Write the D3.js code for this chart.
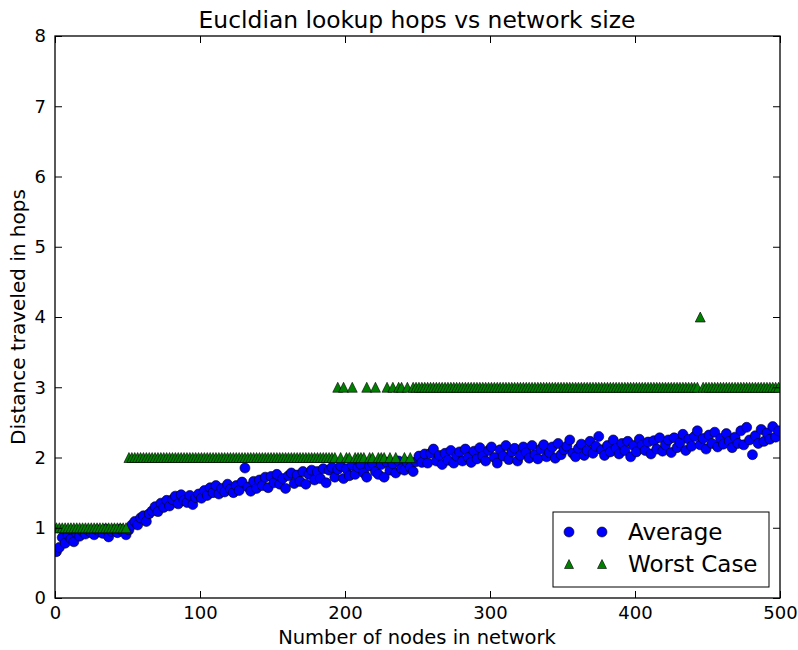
<!DOCTYPE html>
<html>
<head>
<meta charset="utf-8">
<script src="https://cdn.jsdelivr.net/npm/d3@7/dist/d3.min.js"></script>
<style>
  body { margin: 0; background: #fff; }
  svg { display: block; font-family: "DejaVu Sans", sans-serif; }
</style>
</head>
<body>
<svg id="chart" width="798" height="650"></svg>
<script>
const title = "Eucldian lookup hops vs network size";
const xLabel = "Number of nodes in network";
const yLabel = "Distance traveled in hops";
const seriesNames = ["Average", "Worst Case"];
const xTicks = [0, 100, 200, 300, 400, 500];
const yTicks = [0, 1, 2, 3, 4, 5, 6, 7, 8];

// network sizes sampled (odd sizes 1..499)
const nodes = d3.range(1, 500, 2);

const average = [
  0.66, 0.72, 0.86, 0.78, 0.90, 0.84, 0.80, 0.92, 0.88, 0.95,
  0.91, 0.96, 0.93, 0.90, 0.97, 0.94, 0.92, 0.98, 0.87, 0.95,
  0.97, 0.93, 0.98, 0.95, 0.90, 0.97, 1.04, 1.09, 1.04, 1.14,
  1.17, 1.09, 1.20, 1.24, 1.30, 1.23, 1.35, 1.29, 1.39, 1.31,
  1.40, 1.45, 1.34, 1.47, 1.39, 1.36, 1.46, 1.33, 1.43, 1.48,
  1.42, 1.53, 1.46, 1.57, 1.50, 1.60, 1.48, 1.56, 1.51, 1.62,
  1.55, 1.50, 1.60, 1.53, 1.65, 1.85, 1.58, 1.52, 1.66, 1.56,
  1.68, 1.60, 1.72, 1.57, 1.73, 1.64, 1.76, 1.62, 1.70, 1.56,
  1.74, 1.78, 1.63, 1.75, 1.66, 1.80, 1.62, 1.76, 1.82, 1.68,
  1.80, 1.70, 1.84, 1.64, 1.82, 1.86, 1.72, 1.83, 1.88, 1.70,
  1.84, 1.74, 1.89, 1.76, 1.86, 1.90, 1.78, 1.72, 1.88, 1.92,
  1.80, 1.76, 1.90, 1.72, 1.93, 1.82, 1.91, 1.78, 1.95, 1.84,
  1.82, 1.93, 1.86, 1.80, 1.94, 2.02, 1.93, 2.05, 1.92, 2.06,
  2.12, 1.95, 2.03, 1.90, 2.06, 1.96, 2.10, 1.92, 2.02, 2.08,
  1.95, 2.12, 2.00, 1.93, 2.09, 1.98, 2.14, 2.02, 1.95, 2.10,
  2.15, 2.00, 1.92, 2.11, 2.02, 2.17, 1.97, 2.08, 2.13, 1.95,
  2.03, 2.15, 2.07, 1.99, 2.17, 2.04, 1.98, 2.12, 2.18, 2.01,
  2.07, 2.15, 1.99, 2.20, 2.04, 2.11, 2.16, 2.25, 2.06, 2.01,
  2.13, 2.19, 2.03, 2.10, 2.23, 2.06, 2.16, 2.30, 2.11, 2.03,
  2.17, 2.08, 2.25, 2.13, 2.05, 2.20, 2.10, 2.23, 2.01, 2.17,
  2.08, 2.26, 2.18, 2.10, 2.22, 2.05, 2.24, 2.12, 2.28, 2.09,
  2.18, 2.25, 2.07, 2.28, 2.14, 2.21, 2.33, 2.10, 2.26, 2.16,
  2.30, 2.38, 2.18, 2.27, 2.12, 2.32, 2.20, 2.36, 2.15, 2.27,
  2.19, 2.34, 2.23, 2.14, 2.29, 2.20, 2.38, 2.18, 2.43, 2.25,
  2.04, 2.31, 2.20, 2.40, 2.23, 2.35, 2.26, 2.44, 2.29, 2.38
];

const worstCase = [
  1,1,1,1,1,1,1,1,1,1,1,1,1,1,1,1,1,1,1,1,1,1,1,1,1,
  2,2,2,2,2,2,2,2,2,2,2,2,2,2,2,2,2,2,2,2,2,2,2,2,2,
  2,2,2,2,2,2,2,2,2,2,2,2,2,2,2,2,2,2,2,2,2,2,2,2,2,
  2,2,2,2,2,2,2,2,2,2,2,2,2,2,2,2,2,2,2,2,2,2,3,2,3,
  2,2,3,2,2,2,2,3,2,2,3,2,2,2,3,2,3,2,3,3,2,3,2,3,3,
  3,3,3,3,3,3,3,3,3,3,3,3,3,3,3,3,3,3,3,3,3,3,3,3,3,
  3,3,3,3,3,3,3,3,3,3,3,3,3,3,3,3,3,3,3,3,3,3,3,3,3,
  3,3,3,3,3,3,3,3,3,3,3,3,3,3,3,3,3,3,3,3,3,3,3,3,3,
  3,3,3,3,3,3,3,3,3,3,3,3,3,3,3,3,3,3,3,3,3,3,4,3,3,
  3,3,3,3,3,3,3,3,3,3,3,3,3,3,3,3,3,3,3,3,3,3,3,3,3
];

const svg = d3.select("#chart");
const L = 55, R = 780, T = 36, B = 598;
const x = d3.scaleLinear().domain([0, 500]).range([L, R]);
const y = d3.scaleLinear().domain([0, 8]).range([B, T]);

const avgPts = nodes.map((n, i) => ({ n, v: average[i] }));
const worstPts = nodes.map((n, i) => ({ n, v: worstCase[i] }));

const tri = "M0,-5L5,5L-5,5Z";

svg.append("defs").append("clipPath").attr("id", "clip")
  .append("rect").attr("x", L).attr("y", T).attr("width", R - L).attr("height", B - T);

const plot = svg.append("g").attr("clip-path", "url(#clip)");

plot.selectAll("circle.avg").data(avgPts).join("circle")
  .attr("class", "avg")
  .attr("cx", d => x(d.n)).attr("cy", d => y(d.v)).attr("r", 5)
  .attr("fill", "#0000ff").attr("stroke", "#000").attr("stroke-width", 0.6);

plot.selectAll("path.worst").data(worstPts).join("path")
  .attr("class", "worst")
  .attr("d", tri)
  .attr("transform", d => `translate(${x(d.n)},${y(d.v)})`)
  .attr("fill", "#008000").attr("stroke", "#000").attr("stroke-width", 0.6);

const tickLen = 7;
const fontTick = 18;
const axB = svg.append("g").attr("transform", `translate(0,${B})`)
  .call(d3.axisBottom(x).tickValues(xTicks).tickSizeInner(-tickLen).tickSizeOuter(0).tickPadding(8));
const axT = svg.append("g").attr("transform", `translate(0,${T})`)
  .call(d3.axisTop(x).tickValues(xTicks).tickSizeInner(-tickLen).tickSizeOuter(0).tickFormat(""));
const axL = svg.append("g").attr("transform", `translate(${L},0)`)
  .call(d3.axisLeft(y).tickValues(yTicks).tickSizeInner(-tickLen).tickSizeOuter(0).tickPadding(9));
const axR = svg.append("g").attr("transform", `translate(${R},0)`)
  .call(d3.axisRight(y).tickValues(yTicks).tickSizeInner(-tickLen).tickSizeOuter(0).tickFormat(""));

[axB, axT, axL, axR].forEach(a => {
  a.select(".domain").remove();
  a.selectAll("line").attr("stroke", "#000").attr("stroke-width", 1);
  a.selectAll("text").attr("font-size", fontTick).attr("font-family", "DejaVu Sans").attr("fill", "#000");
});

svg.append("rect").attr("x", L).attr("y", T).attr("width", R - L).attr("height", B - T)
  .attr("fill", "none").attr("stroke", "#000").attr("stroke-width", 1.3);

svg.append("text").attr("x", (L + R) / 2 - 0.5).attr("y", 28).attr("text-anchor", "middle")
  .attr("font-size", 23.4).text(title);
svg.append("text").attr("x", (L + R) / 2 - 0.5).attr("y", 644).attr("text-anchor", "middle")
  .attr("font-size", 19.5).text(xLabel);
svg.append("text").attr("transform", `translate(25,${(T + B) / 2}) rotate(-90)`)
  .attr("text-anchor", "middle").attr("font-size", 20).text(yLabel);

const lg = svg.append("g");
lg.append("rect").attr("x", 553).attr("y", 512).attr("width", 216).attr("height", 75)
  .attr("fill", "#fff").attr("stroke", "#000").attr("stroke-width", 1);
const legendRows = [
  { name: seriesNames[0], cy: 532, kind: "circle" },
  { name: seriesNames[1], cy: 564, kind: "tri" }
];
legendRows.forEach(r => {
  [569, 602].forEach(mx => {
    if (r.kind === "circle") {
      lg.append("circle").attr("cx", mx).attr("cy", r.cy).attr("r", 5)
        .attr("fill", "#0000ff").attr("stroke", "#000").attr("stroke-width", 0.6);
    } else {
      lg.append("path").attr("d", "M0,-4.5L4.5,4.5L-4.5,4.5Z")
        .attr("transform", `translate(${mx},${r.cy})`)
        .attr("fill", "#008000").attr("stroke", "#000").attr("stroke-width", 0.6);
    }
  });
  lg.append("text").attr("x", 628).attr("y", r.cy).attr("dy", "0.36em")
    .attr("font-size", 23).text(r.name);
});
</script>
</body>
</html>
